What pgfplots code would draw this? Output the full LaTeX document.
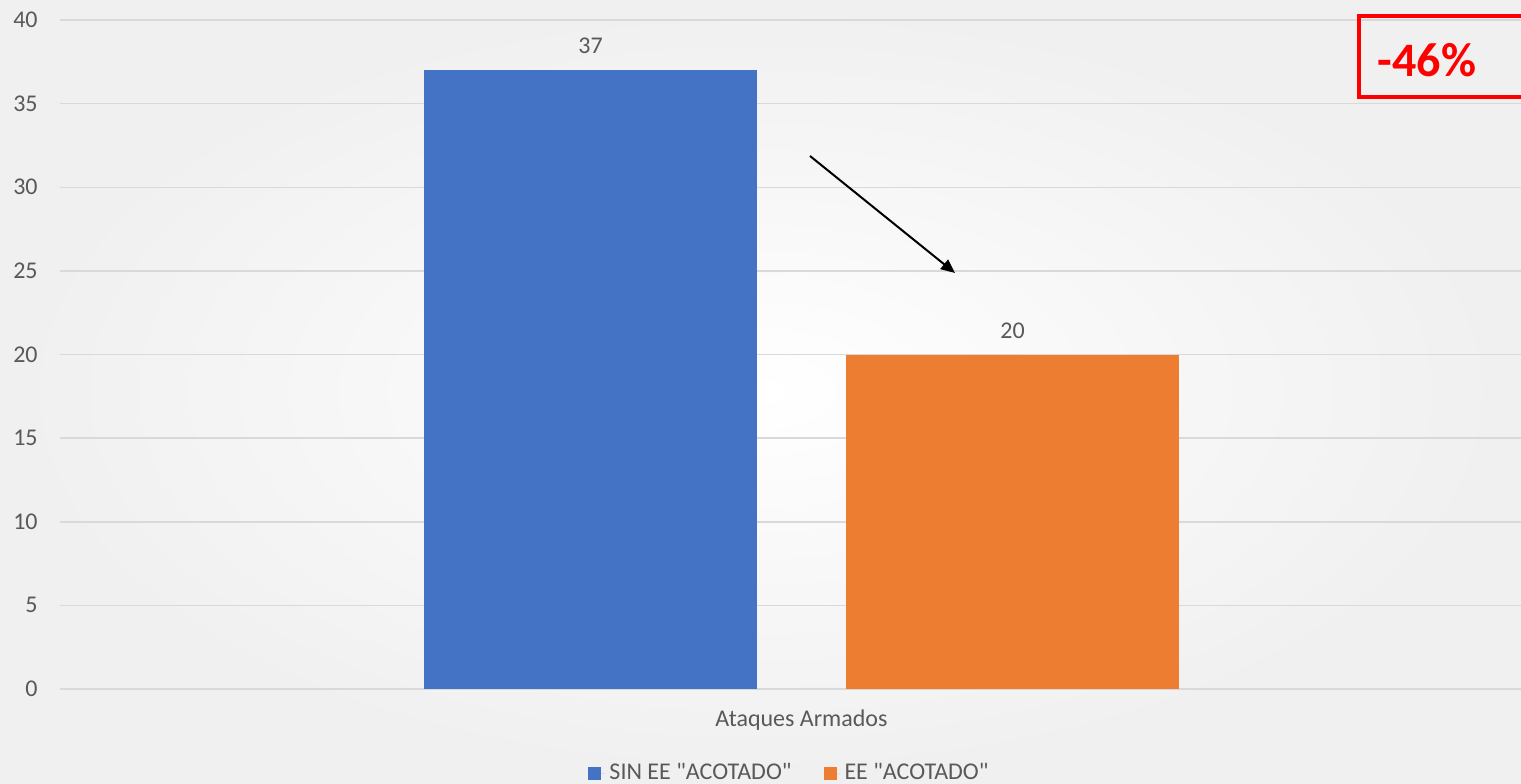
\documentclass[border=0pt]{standalone}
\usepackage{fontspec}
\setmainfont{Carlito}[Ligatures=TeXOff]
\usepackage{pgfplots}
\pgfplotsset{compat=1.18}
\usetikzlibrary{arrows.meta}
\definecolor{gridc}{HTML}{D9D9D9}
\definecolor{txt}{HTML}{595959}
\definecolor{cblue}{HTML}{4472C4}
\definecolor{corange}{HTML}{ED7D31}
\begin{document}
\begin{tikzpicture}[x=1pt,y=1pt]
\useasboundingbox (0,0) rectangle (760.5,391.5);
\shade[inner color=white, outer color=black!6] (0,0) rectangle (760.5,391.5);
\begin{axis}[
  at={(30pt,47pt)}, anchor=south west, scale only axis,
  width=730.5pt, height=334.5pt,
  xmin=-1, xmax=1, ymin=0, ymax=40,
  ytick={0,5,...,40},
  xtick={0}, xticklabels={Ataques Armados},
  ymajorgrids, grid style={gridc, line width=0.75pt},
  axis line style={draw=none}, major tick length=0pt,
  /pgf/number format/assume math mode=true,
  tick label style={font=\fontsize{12}{14}\selectfont, color=txt},
  yticklabel style={anchor=east, inner sep=0pt, xshift=-11pt},
  xticklabel style={anchor=center, inner sep=0pt, yshift=-15.5pt, xshift=5.5pt},
  ybar, bar width=166.5pt,
  nodes near coords,
  every node near coord/.append style={font=\fontsize{12}{14}\selectfont, color=txt, anchor=center, yshift=12pt},
  legend style={at={(0.5,0)}, anchor=center, yshift=-42pt, xshift=0pt, draw=none, fill=none,
    legend columns=2, font=\fontsize{12}{14}\selectfont, text=txt,
    /tikz/every even column/.append style={column sep=14pt},
    legend cell align=left},
  legend image code/.code={\fill[#1] (0pt,-3.25pt) rectangle (6.5pt,3.25pt); \path (0pt,0pt) -- (8.5pt,0pt);},
]
\addplot[fill=cblue, draw=none, bar shift=-100pt] coordinates {(0,37)};
\addplot[fill=corange, draw=none, bar shift=111pt] coordinates {(0,20)};
\legend{SIN EE "ACOTADO", EE "ACOTADO"}
\end{axis}
\draw[line width=1pt, -{Triangle[length=7pt,width=6pt]}] (405,313.5) -- (477.5,255);
\draw[red, line width=2pt] (760.5,383.5) -- (679.5,383.5) -- (679.5,343) -- (760.5,343);
\node[red, font=\fontsize{24}{28}\selectfont\bfseries] at (713.5,361.5) {-46\%};
\end{tikzpicture}
\end{document}
